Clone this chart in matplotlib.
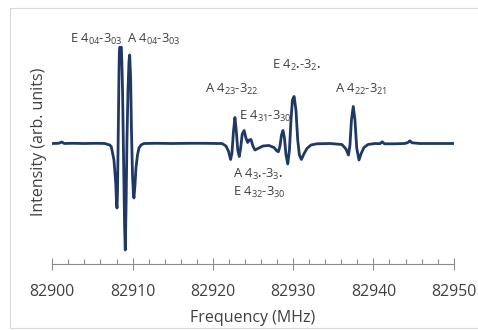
import matplotlib
matplotlib.use("Agg")
import matplotlib.pyplot as plt
from matplotlib.patches import Rectangle

plt.rcParams['font.family'] = ['Open Sans', 'DejaVu Sans']
plt.rcParams['mathtext.fontset'] = 'custom'
plt.rcParams['mathtext.rm'] = 'Open Sans'
plt.rcParams['mathtext.it'] = 'Open Sans'
plt.rcParams['mathtext.bf'] = 'Open Sans'

W, H = 478, 330
TEXT = "#404040"
LINE = "#1f3864"

# spectrum (MHz, arb. units)
freq = [82900.00, 82900.80, 82901.17, 82901.50, 82902.50, 82904.00, 82905.50,
        82906.53, 82907.15, 82907.35, 82907.68, 82907.90, 82908.00, 82908.06,
        82908.12, 82908.20, 82908.31, 82908.35, 82908.39, 82908.60, 82908.66,
        82908.75, 82908.88, 82909.00, 82909.09, 82909.20, 82909.30, 82909.43,
        82909.55, 82909.64, 82909.76, 82909.86, 82909.99, 82910.10, 82910.17,
        82910.30, 82910.42, 82910.61, 82910.80, 82911.05, 82911.42, 82913.00,
        82915.00, 82917.00, 82919.00, 82920.50, 82921.13, 82921.63, 82921.94,
        82922.21, 82922.38, 82922.56, 82922.75, 82922.91, 82923.10, 82923.29,
        82923.46, 82923.66, 82923.90, 82924.12, 82924.33, 82924.53, 82924.75,
        82924.99, 82925.24, 82925.62, 82926.24, 82926.99, 82927.61, 82927.98,
        82928.17, 82928.36, 82928.55, 82928.73, 82928.92, 82929.11, 82929.33,
        82929.54, 82929.73, 82929.91, 82930.12, 82930.35, 82930.57, 82930.78,
        82931.03, 82931.34, 82931.72, 82932.22, 82932.96, 82934.58, 82936.08,
        82936.58, 82936.89, 82937.08, 82937.26, 82937.49, 82937.70, 82937.92,
        82938.20, 82938.45, 82938.82, 82939.32, 82940.19, 82940.81, 82941.10,
        82941.37, 82942.68, 82943.93, 82944.30, 82944.55, 82944.80, 82945.79,
        82948.28, 82950.00]
intensity = [-0.2, 0.0, 1.3, -0.2, 0.0, -0.2, 0.0,
             -0.2, -1.7, -3.4, -16.7, -39.7, -60.0, -64.7,
             -50.0, 0.0, 73.0, 90.0, 96.0, 96.0, 83.0,
             53.0, -16.7, -81.7, -106.7, -56.7, 3.3, 53.3,
             82.0, 88.3, 65.0, 13.3, -31.7, -50.0, -54.7,
             -41.7, -24.7, -11.7, -4.7, -1.7, -0.2, 0.0,
             -0.2, 0.0, 0.0, -0.2, -0.2, -2.7, -7.7,
             -16.2, -9.7, 11.3, 25.8, 13.3, -6.7, -13.2,
             -4.7, 9.3, 12.8, 5.3, 0.8, 3.3, 3.8,
             -2.7, -6.7, -5.2, -2.7, -2.2, -4.2, -7.7,
             -8.4, -2.7, 8.3, 12.8, 5.3, -11.7, -20.7,
             -6.7, 23.3, 43.3, 46.8, 33.3, 3.3, -11.7,
             -16.2, -10.7, -5.2, -1.7, -0.5, -0.2, -1.2,
             -5.7, -11.7, -1.7, 23.3, 36.8, 23.3, -4.7,
             -16.7, -10.7, -4.2, -1.2, -0.2, -0.4, 1.5,
             -0.5, -0.5, -0.2, 0.8, 2.5, 0.5, -0.2,
             -0.2, -0.2]

# transition labels: text, left x and baseline y in pixels
labels = ["E 4$_{04}$-3$_{03}$", "A 4$_{04}$-3$_{03}$", "A 4$_{23}$-3$_{22}$",
          "E 4$_{31}$-3$_{30}$", "E 4$_{2\u2022}$-3$_{2\u2022}$", "A 4$_{22}$-3$_{21}$",
          "A 4$_{3\u2022}$-3$_{3\u2022}$", "E 4$_{32}$-3$_{30}$"]
label_x = [70, 126.7, 205, 239.3, 271.7, 335, 232.7, 232.7]
label_y = [42.7, 42.7, 92.7, 120, 69.3, 92.7, 177.7, 195.7]


def fig_pos(x, y):
    return x / W, 1 - y / H


fig = plt.figure(figsize=(W / 100, H / 100), dpi=100)
ax = fig.add_axes([52.3 / W, 1 - 264.3 / H, (453.7 - 52.3) / W, (264.3 - 20) / H])

ax.plot(freq, intensity, color=LINE, lw=2.0, solid_joinstyle='round')
ax.set_xlim(82900, 82950)
ax.set_ylim(-121, 123.3)

for s in ['left', 'top', 'right']:
    ax.spines[s].set_visible(False)
ax.spines['bottom'].set_color('#8c8c8c')
ax.spines['bottom'].set_linewidth(0.8)
ax.set_yticks([])
ax.set_xticks(range(82900, 82951, 10))
ax.set_xticks(range(82900, 82951, 2), minor=True)
ax.tick_params(axis='x', which='major', direction='inout', length=8.5, width=0.8,
               color='#8c8c8c', labelsize=11.4, labelcolor=TEXT, pad=10)
ax.tick_params(axis='x', which='minor', direction='in', length=3.5, width=0.8,
               color='#8c8c8c')
ax.set_xlabel("Frequency (MHz)", fontsize=11.5, color=TEXT, labelpad=7)
ax.set_ylabel("Intensity (arb. units)", fontsize=11.5, color=TEXT, labelpad=4)

for txt, lx, ly in zip(labels, label_x, label_y):
    fx, fy = fig_pos(lx, ly)
    fig.text(fx, fy, txt, fontsize=9.4, color=TEXT, ha='left', va='baseline')

x0, y0 = fig_pos(10, 328)
fig.patches.append(Rectangle((x0, y0), 1, (328 - 8) / H, transform=fig.transFigure,
                             fill=False, ec='#d9d9d9', lw=0.8))

fig.savefig("out.png", dpi=100)
